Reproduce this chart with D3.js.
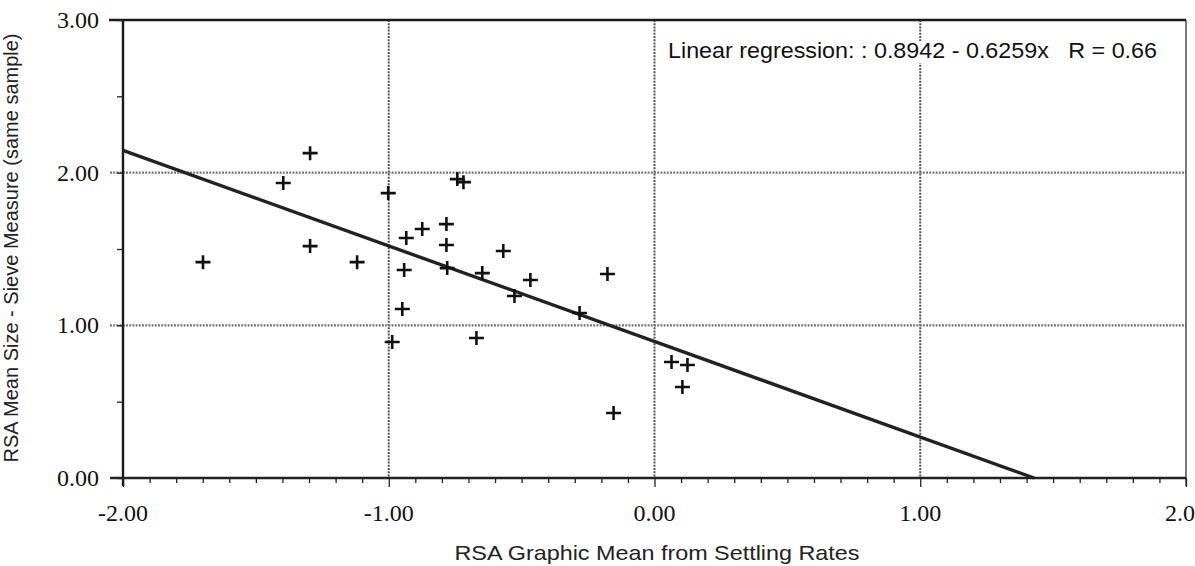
<!DOCTYPE html>
<html>
<head>
<meta charset="utf-8">
<script src="https://cdn.jsdelivr.net/npm/d3@7"></script>
<style>
  html, body { margin: 0; padding: 0; background: #fff; }
  svg { display: block; }
  text { white-space: pre; }
</style>
</head>
<body>
<svg id="chart" width="1195" height="566"></svg>
<script>
// ---- data ----
const xValues = [-1.699, -1.397, -1.296, -1.296, -1.119, -1.002, -0.934, -0.874, -0.783, -0.942,
                 -0.949, -0.987, -0.742, -0.719, -0.783, -0.780, -0.648, -0.569, -0.467, -0.527,
                 -0.670, -0.282, -0.177, -0.154, 0.064, 0.124, 0.105];
const yValues = [1.414, 1.932, 2.128, 1.519, 1.414, 1.866, 1.572, 1.631, 1.663, 1.362,
                 1.107, 0.891, 1.958, 1.938, 1.526, 1.375, 1.342, 1.487, 1.297, 1.192,
                 0.917, 1.081, 1.336, 0.426, 0.760, 0.740, 0.596];
const regIntercept = 0.8942;
const regSlope = -0.6259;
const regR = 0.66;
const xTickValues = [-2, -1, 0, 1, 2];
const xTickLabels = ["-2.00", "-1.00", "0.00", "1.00", "2.0"];
const yTickValues = [0, 1, 2, 3];
const yTickLabels = ["0.00", "1.00", "2.00", "3.00"];
const xTitle = "RSA Graphic Mean from Settling Rates";
const yTitle = "RSA Mean Size - Sieve Measure (same sample)";
const annotation = "Linear regression: : 0.8942 - 0.6259x   R = 0.66";

// ---- layout ----
const svg = d3.select("#chart");
const x = d3.scaleLinear().domain([-2, 2]).range([123, 1186]);
const y = d3.scaleLinear().domain([0, 3]).range([478, 20]);

const serif = "'Liberation Serif', 'Times New Roman', serif";
const sans = "'Liberation Sans', Arial, Helvetica, sans-serif";

// gridlines
svg.append("g").selectAll("line").data([-1, 0, 1]).join("line")
  .attr("x1", d => x(d)).attr("x2", d => x(d))
  .attr("y1", y(3)).attr("y2", y(0))
  .attr("stroke", "#555").attr("stroke-width", 2)
  .attr("stroke-dasharray", "2,1.2");
svg.append("g").selectAll("line").data([1, 2]).join("line")
  .attr("x1", 110).attr("x2", x(2))
  .attr("y1", d => y(d)).attr("y2", d => y(d))
  .attr("stroke", "#777").attr("stroke-width", 2.2)
  .attr("stroke-dasharray", "2,1.2");

// annotation (white backing)
const ann = svg.append("g");
const annText = ann.append("text")
  .attr("x", 668).attr("y", 58)
  .attr("font-family", sans).attr("font-size", 21.5).attr("fill", "#111")
  .attr("textLength", 489).attr("lengthAdjust", "spacingAndGlyphs")
  .text(annotation);
const bb = annText.node().getBBox();
ann.insert("rect", "text")
  .attr("x", bb.x - 2).attr("y", bb.y + 2)
  .attr("width", bb.width + 4).attr("height", bb.height - 2)
  .attr("fill", "#fff");

// frame: top, right, left
svg.append("line").attr("x1", 109).attr("x2", x(2)).attr("y1", y(3)).attr("y2", y(3))
  .attr("stroke", "#1a1a1a").attr("stroke-width", 2.6);
svg.append("line").attr("x1", x(2)).attr("x2", x(2)).attr("y1", y(3)).attr("y2", y(0) + 8)
  .attr("stroke", "#333").attr("stroke-width", 1.3);
svg.append("line").attr("x1", x(-2)).attr("x2", x(-2)).attr("y1", y(3)).attr("y2", y(0) + 8)
  .attr("stroke", "#1a1a1a").attr("stroke-width", 2.4);

// x axis with minor ticks every 0.1
const xAxis = d3.axisBottom(x)
  .tickValues(d3.range(-20, 21).map(i => i / 10))
  .tickSize(5).tickFormat("");
const gx = svg.append("g").attr("transform", `translate(0,${y(0)})`).call(xAxis);
gx.select(".domain").attr("stroke", "#222").attr("stroke-width", 2.4)
  .attr("d", `M110,0H${x(2)}`);
gx.selectAll(".tick line").attr("stroke", "#222").attr("stroke-width", 1.3);
gx.selectAll(".tick").filter(d => Math.abs(d - Math.round(d)) < 1e-9)
  .select("line").attr("y2", 9);
svg.append("g").selectAll("text").data(xTickValues).join("text")
  .attr("x", d => d === 2 ? 1195 : x(d)).attr("y", 521)
  .attr("text-anchor", d => d === 2 ? "end" : "middle")
  .attr("font-family", serif).attr("font-size", 24).attr("fill", "#111")
  .text((d, i) => xTickLabels[i]);

// y axis ticks every 0.5
const yAxis = d3.axisLeft(y).tickValues(d3.range(0, 7).map(i => i / 2)).tickSize(6).tickFormat("");
const gy = svg.append("g").attr("transform", `translate(${x(-2)},0)`).call(yAxis);
gy.select(".domain").remove();
gy.selectAll(".tick line").attr("stroke", "#222").attr("stroke-width", 1.3);
svg.append("g").selectAll("text").data(yTickValues).join("text")
  .attr("x", 99).attr("y", d => y(d) + 8)
  .attr("text-anchor", "end")
  .attr("font-family", serif).attr("font-size", 24).attr("fill", "#111")
  .text((d, i) => yTickLabels[i]);

// regression line, clipped at y = 0
const xEnd = Math.min(2, -regIntercept / regSlope);
const regPts = [-2, xEnd].map(v => [v, regIntercept + regSlope * v]);
svg.append("path")
  .attr("d", d3.line().x(d => x(d[0])).y(d => y(d[1]))(regPts))
  .attr("stroke", "#222").attr("stroke-width", 3.4).attr("fill", "none");

// points as "+" markers
const pts = xValues.map((v, i) => [v, yValues[i]]);
svg.append("g").selectAll("path").data(pts).join("path")
  .attr("transform", d => `translate(${x(d[0])},${y(d[1])})`)
  .attr("d", "M-7.5,0H7.5M0,-7V7")
  .attr("stroke", "#111").attr("stroke-width", 2.6).attr("fill", "none");

// axis titles
svg.append("text")
  .attr("x", 657).attr("y", 560).attr("text-anchor", "middle")
  .attr("font-family", sans).attr("font-size", 21).attr("fill", "#222")
  .attr("textLength", 405).attr("lengthAdjust", "spacingAndGlyphs")
  .text(xTitle);
svg.append("text")
  .attr("transform", "translate(18,248) rotate(-90)")
  .attr("text-anchor", "middle")
  .attr("font-family", sans).attr("font-size", 20).attr("fill", "#222")
  .text(yTitle);
</script>
</body>
</html>
